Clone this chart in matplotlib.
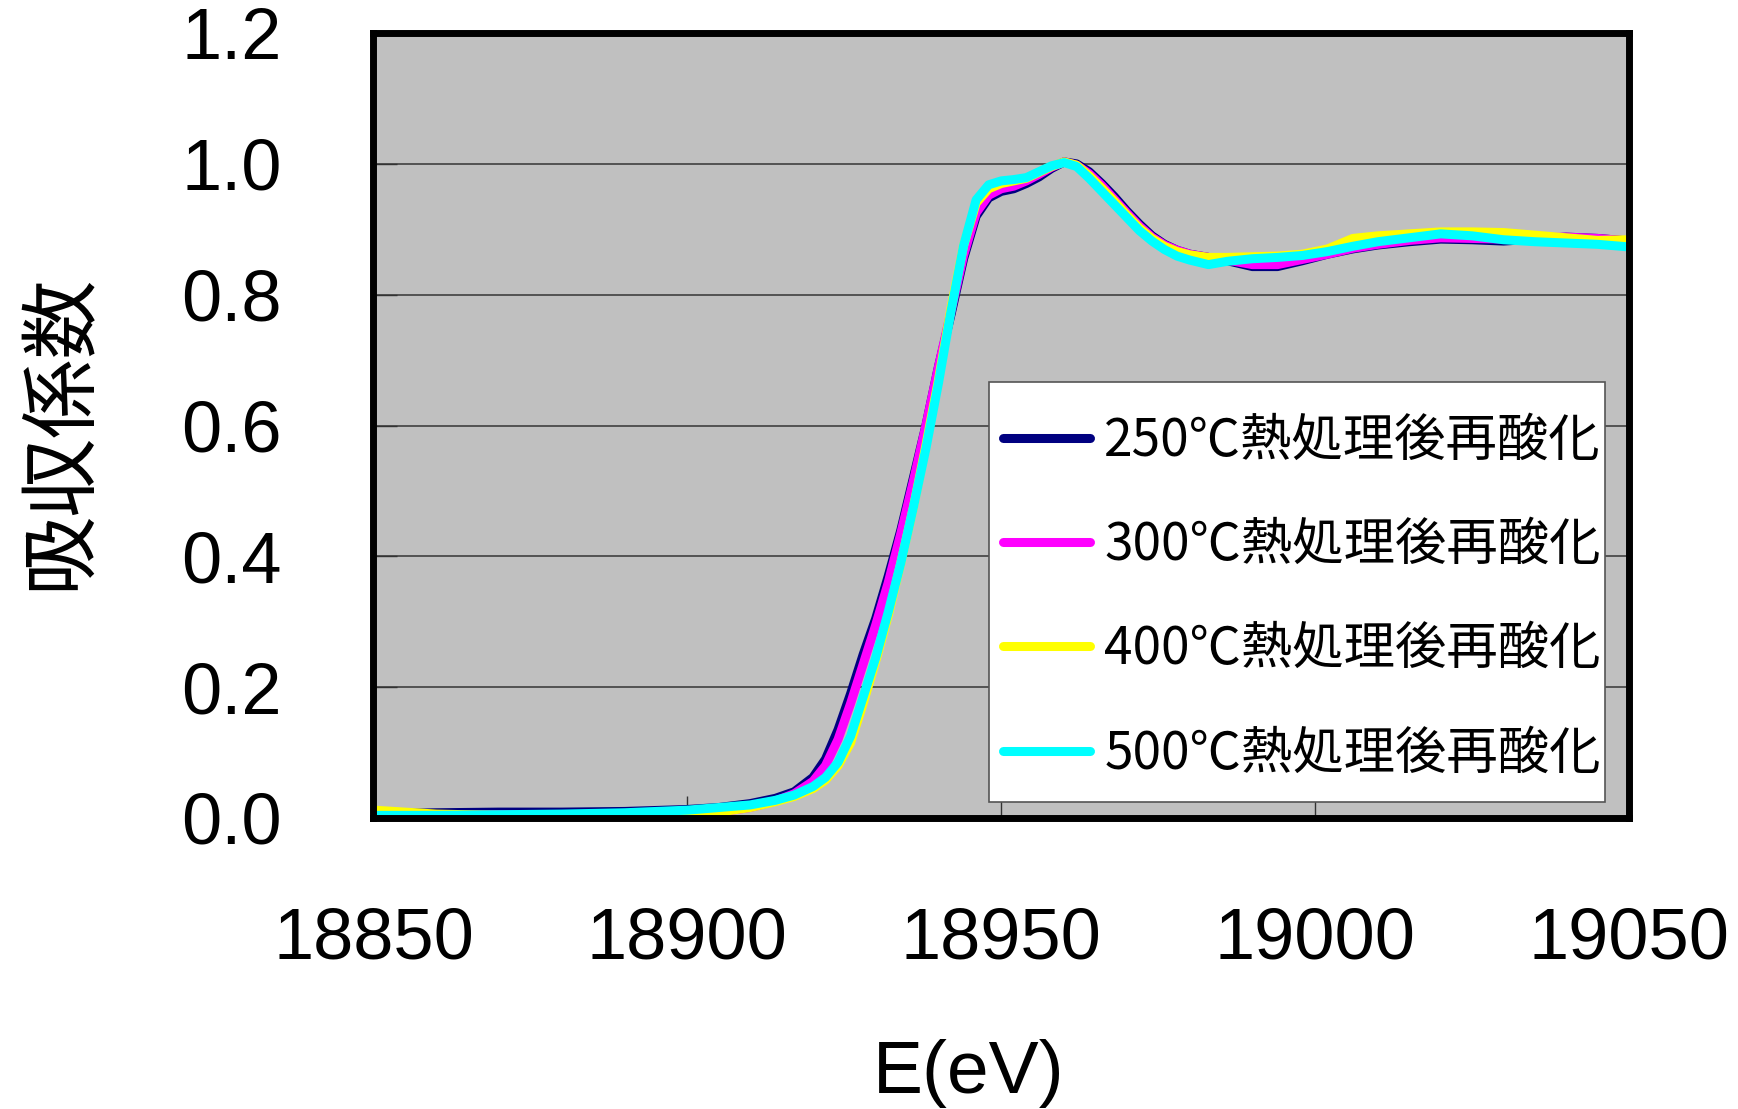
import matplotlib
matplotlib.use("Agg")
import matplotlib.pyplot as plt
from matplotlib.patches import Rectangle

# energy grid (eV) shared by all four spectra
energy = [18850, 18860, 18870, 18880, 18890, 18900, 18905, 18910, 18914, 18917,
          18920, 18922, 18924, 18926, 18928, 18930, 18932, 18934, 18936, 18938,
          18940, 18942, 18944, 18946, 18948, 18950, 18952, 18954, 18956, 18958,
          18960, 18962, 18964, 18966, 18968, 18970, 18972, 18974, 18976, 18978,
          18980, 18983, 18986, 18990, 18994, 18998, 19002, 19006, 19010, 19015,
          19020, 19025, 19030, 19035, 19040, 19045, 19050]

mu_250 = [0.006, 0.008, 0.009, 0.009, 0.010, 0.013, 0.016, 0.022, 0.030, 0.040,
          0.062, 0.090, 0.135, 0.190, 0.250, 0.305, 0.370, 0.440, 0.520, 0.600,
          0.690, 0.770, 0.855, 0.920, 0.948, 0.958, 0.962, 0.970, 0.980, 0.993,
          1.003, 1.000, 0.988, 0.970, 0.950, 0.928, 0.908, 0.890, 0.877, 0.868,
          0.862, 0.857, 0.852, 0.843, 0.843, 0.852, 0.862, 0.870, 0.876, 0.881,
          0.885, 0.884, 0.882, 0.885, 0.888, 0.886, 0.882]

mu_300 = [0.003, 0.004, 0.005, 0.005, 0.005, 0.006, 0.009, 0.016, 0.026, 0.037,
          0.056, 0.080, 0.120, 0.175, 0.235, 0.295, 0.360, 0.435, 0.515, 0.600,
          0.690, 0.775, 0.860, 0.925, 0.952, 0.962, 0.966, 0.974, 0.984, 0.995,
          1.003, 0.998, 0.985, 0.967, 0.946, 0.925, 0.905, 0.888, 0.876, 0.868,
          0.862, 0.857, 0.853, 0.846, 0.846, 0.854, 0.862, 0.871, 0.877, 0.883,
          0.887, 0.886, 0.885, 0.887, 0.888, 0.886, 0.882]

mu_400 = [0.012, 0.006, 0.004, 0.003, 0.003, 0.005, 0.009, 0.016, 0.025, 0.033,
          0.045, 0.058, 0.080, 0.115, 0.175, 0.240, 0.310, 0.390, 0.475, 0.570,
          0.670, 0.780, 0.875, 0.940, 0.962, 0.970, 0.974, 0.978, 0.987, 0.996,
          1.003, 0.998, 0.982, 0.963, 0.943, 0.922, 0.902, 0.886, 0.874, 0.866,
          0.861, 0.857, 0.857, 0.858, 0.859, 0.862, 0.870, 0.886, 0.890, 0.893,
          0.896, 0.896, 0.895, 0.891, 0.887, 0.883, 0.884]

mu_500 = [0.004, 0.004, 0.005, 0.006, 0.008, 0.012, 0.016, 0.020, 0.027, 0.035,
          0.048, 0.062, 0.085, 0.125, 0.185, 0.245, 0.315, 0.390, 0.475, 0.565,
          0.665, 0.775, 0.875, 0.945, 0.968, 0.974, 0.976, 0.979, 0.988, 0.997,
          1.002, 0.996, 0.978, 0.958, 0.938, 0.918, 0.898, 0.882, 0.869, 0.859,
          0.853, 0.846, 0.851, 0.855, 0.857, 0.860, 0.866, 0.874, 0.881, 0.887,
          0.893, 0.890, 0.884, 0.881, 0.879, 0.877, 0.873]

labels = ["250℃熱処理後再酸化", "300℃熱処理後再酸化",
          "400℃熱処理後再酸化", "500℃熱処理後再酸化"]
colors = ["#000080", "#ff00ff", "#ffff00", "#00ffff"]

x_ticks = [18850, 18900, 18950, 19000, 19050]
y_ticks = [0.0, 0.2, 0.4, 0.6, 0.8, 1.0, 1.2]

jp = ["Noto Sans CJK JP", "DejaVu Sans"]
num_font = "Liberation Sans"

fig = plt.figure(figsize=(17.38, 11.09), dpi=100)
ax = fig.add_axes([0.2149, 0.2624, 0.7224, 0.7078])
ax.set_facecolor("#c0c0c0")

for mu, c, lab in zip([mu_250, mu_300, mu_400, mu_500], colors, labels):
    ax.plot(energy, mu, color=c, lw=6.5, label=lab, solid_capstyle="round",
            solid_joinstyle="round")

ax.set_xlim(18850, 19050)
ax.set_ylim(0, 1.2)
ax.set_xticks(x_ticks)
ax.set_yticks(y_ticks)
ax.set_xticklabels([str(v) for v in x_ticks], fontsize=52, family=num_font)
ax.set_yticklabels(["%.1f" % v for v in y_ticks], fontsize=52, family=num_font)
ax.tick_params(axis="x", direction="in", length=16, width=1, color="#333333", pad=64)
ax.tick_params(axis="y", direction="in", length=17, width=1, color="#333333", pad=66)
ax.yaxis.grid(True, color="#404040", lw=1.2)
for s in ax.spines.values():
    s.set_linewidth(5)
    s.set_color("black")

# legend box (white frame) drawn separately, legend itself frameless
box = Rectangle((989 / 1738, 1 - 802 / 1109), 616 / 1738, 420 / 1109,
                transform=fig.transFigure, facecolor="white", edgecolor="#555555",
                lw=1.2, zorder=4, clip_on=False)
ax.add_patch(box)

leg = ax.legend(loc="upper left", bbox_to_anchor=(1003 / 1738, 1 - 414 / 1109),
                bbox_transform=fig.transFigure, prop={"family": jp, "size": 37},
                frameon=False, handlelength=1.7, handletextpad=0.27,
                labelspacing=0.99, borderpad=0, borderaxespad=0)
leg.set_zorder(5)

fig.text(0.035, 0.6105, "吸収係数", rotation=90, ha="center", va="center",
         family=jp, fontsize=57)
fig.text(0.5575, 0.014, "E(eV)", ha="center", va="baseline",
         family=num_font, fontsize=54)

fig.savefig("out.png", dpi=100)
